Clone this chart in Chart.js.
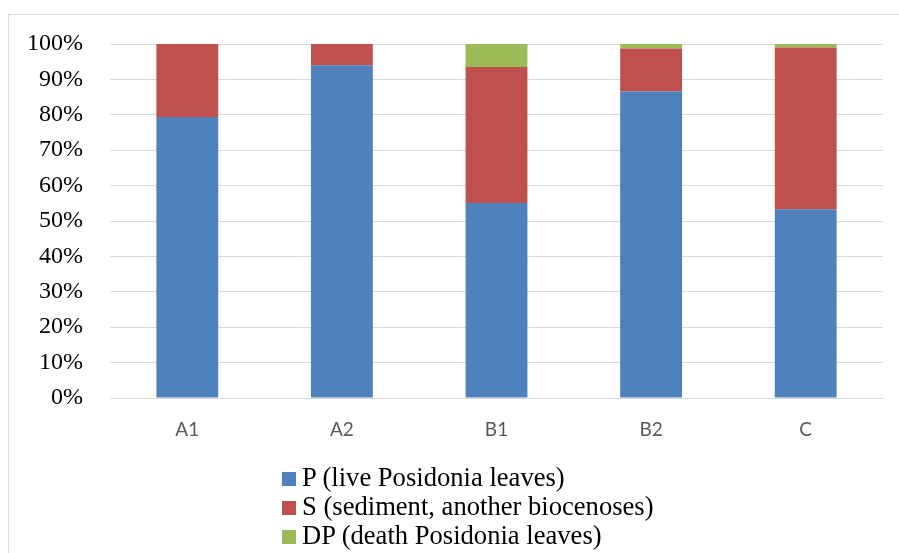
<!DOCTYPE html>
<html lang="en">
<head>
<meta charset="UTF-8">
<title>Posidonia cover</title>
<script src="https://cdn.jsdelivr.net/npm/chart.js"></script>
<style>
    body { margin: 0; background: #fff; }
    #wrap { position: relative; width: 899px; height: 553px; overflow: hidden; }
    #frame { position: absolute; left: 8px; top: 14px; width: 900px; height: 600px; border: 1px solid #d9d9d9; box-sizing: border-box; }
    #chart { position: absolute; left: 0; top: 0; }
    #legend { position: absolute; left: 282px; top: 463px; font-family: "Liberation Serif", "Times New Roman", serif; font-size: 26.6px; color: #000; }
    #legend div { height: 29px; line-height: 29px; white-space: nowrap; }
    #legend span { display: inline-block; width: 14px; height: 14px; margin-right: 6px; vertical-align: 0px; }
</style>
</head>
<body>
<div id="wrap">
    <div id="frame"></div>
    <canvas id="chart" width="899" height="553"></canvas>
    <div id="legend"></div>
</div>
<script>
const categories = ["A1", "A2", "B1", "B2", "C"];
const liveLeaves = [79.4, 94.0, 55.1, 86.6, 53.3];
const sediment   = [20.6, 6.0, 38.4, 12.1, 45.7];
const deadLeaves = [0, 0, 6.5, 1.3, 1.0];
const yTicks = [0, 10, 20, 30, 40, 50, 60, 70, 80, 90, 100];

const ctx = document.getElementById('chart').getContext('2d');
const chart = new Chart(ctx, {
    type: 'bar',
    data: {
        labels: categories,
        datasets: [
            { label: 'P (live Posidonia leaves)', data: liveLeaves, backgroundColor: '#4F81BD' },
            { label: 'S (sediment, another biocenoses)', data: sediment, backgroundColor: '#C0504D' },
            { label: 'DP (death Posidonia leaves)', data: deadLeaves, backgroundColor: '#9BBB59' }
        ]
    },
    options: {
        responsive: false,
        animation: false,
        layout: { padding: { left: 0, right: 16, top: 44, bottom: 95 } },
        datasets: { bar: { barPercentage: 0.4, categoryPercentage: 1.0, borderWidth: 0 } },
        plugins: {
            legend: { display: false },
            tooltip: { enabled: false }
        },
        scales: {
            x: {
                stacked: true,
                grid: { display: false },
                border: { display: true, color: '#d9d9d9', width: 1 },
                ticks: { color: '#595959', padding: 12, font: { family: 'Lato', size: 19 } },
                afterFit: s => { s.height = 60; }
            },
            y: {
                stacked: true,
                min: 0,
                max: 100,
                afterBuildTicks: s => { s.ticks = yTicks.map(v => ({ value: v })); },
                grid: { color: '#d9d9d9', drawTicks: false },
                border: { display: false },
                ticks: {
                    color: '#000',
                    padding: 27,
                    font: { family: 'Liberation Serif', size: 24 },
                    callback: v => v + '%'
                },
                afterFit: s => { s.width = 110; }
            }
        }
    }
});

const legend = document.getElementById('legend');
chart.data.datasets.forEach(ds => {
    const row = document.createElement('div');
    const box = document.createElement('span');
    box.style.background = ds.backgroundColor;
    row.appendChild(box);
    row.appendChild(document.createTextNode(ds.label));
    legend.appendChild(row);
});
</script>
</body>
</html>
